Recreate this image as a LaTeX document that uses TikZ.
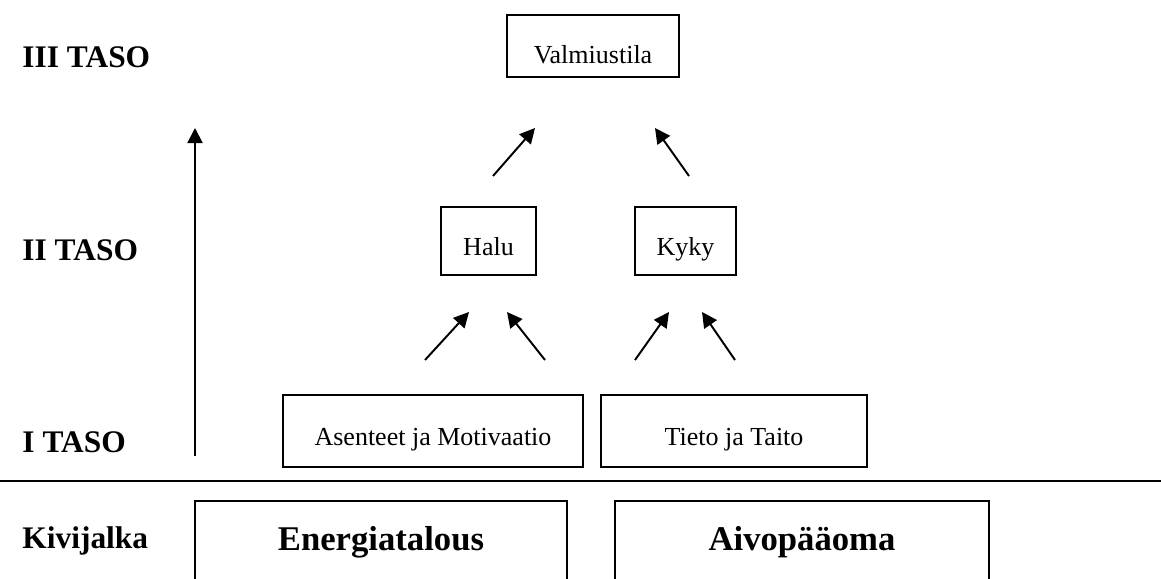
\documentclass[tikz,border=0pt]{standalone}
\usepackage{fontspec}
\setmainfont{Liberation Serif}
\usetikzlibrary{arrows.meta}

\begin{document}
\begin{tikzpicture}[x=0.4615pt,y=-0.4615pt,
    box/.style={draw,line width=0.9pt,anchor=north,inner xsep=0pt,inner ysep=0pt,
      font=\fontsize{12}{14}\selectfont},
    bigbox/.style={box,font=\fontsize{16}{19}\selectfont\bfseries},
    level/.style={anchor=base west,inner sep=0pt,font=\fontsize{14.5}{17}\selectfont\bfseries},
    up/.style={-{Triangle[length=7pt,width=7pt]},line width=0.9pt}]
  \path[use as bounding box,clip] (0,0) rectangle (1161,579);
  % tasot
  \node[level] (taso3) at (22,67) {III TASO};
  \node[level] (taso2) at (22,260) {II TASO};
  \node[level] (taso1) at (22,452) {I TASO};
  \node[level] (kivijalka) at (22,548) {Kivijalka};
  % laatikot
  \node[box,minimum width=79.4pt,text height=22.6pt,text depth=6pt] (valmius) at (593,14) {Valmiustila};
  \node[box,minimum width=43.8pt,text height=22.6pt,text depth=8.8pt] (halu) at (488.5,206) {Halu};
  \node[box,minimum width=46.6pt,text height=22.6pt,text depth=8.8pt] (kyky) at (685.5,206) {Kyky};
  \node[box,minimum width=138.5pt,text height=23.1pt,text depth=10.2pt] (asenteet) at (433,394) {Asenteet ja Motivaatio};
  \node[box,minimum width=122.8pt,text height=23.1pt,text depth=10.2pt] (tieto) at (734,394) {Tieto ja Taito};
  \draw[line width=0.8pt] (0,481) -- (1161,481);
  \node[bigbox,minimum width=171.7pt,text height=22.8pt,text depth=18pt] (energia) at (381,500) {Energiatalous};
  \node[bigbox,minimum width=172.6pt,text height=22.8pt,text depth=18pt] (aivo) at (802,500) {Aivopääoma};
  % nuolet
  \coordinate (nousu) at (195,456);
  \coordinate (huippu) at (195,128);
  \coordinate (h1) at (493,176);  \coordinate (v1) at (535,128);
  \coordinate (k1) at (689,176);  \coordinate (v2) at (655,128);
  \coordinate (a1) at (425,360);  \coordinate (h2) at (469,312);
  \coordinate (a2) at (545,360);  \coordinate (h3) at (507,312);
  \coordinate (t1) at (635,360);  \coordinate (k2) at (669,312);
  \coordinate (t2) at (735,360);  \coordinate (k3) at (702,312);
  \draw[up] (nousu) -- (huippu);
  \draw[up] (h1) -- (v1);
  \draw[up] (k1) -- (v2);
  \draw[up] (a1) -- (h2);
  \draw[up] (a2) -- (h3);
  \draw[up] (t1) -- (k2);
  \draw[up] (t2) -- (k3);
\end{tikzpicture}
\end{document}
